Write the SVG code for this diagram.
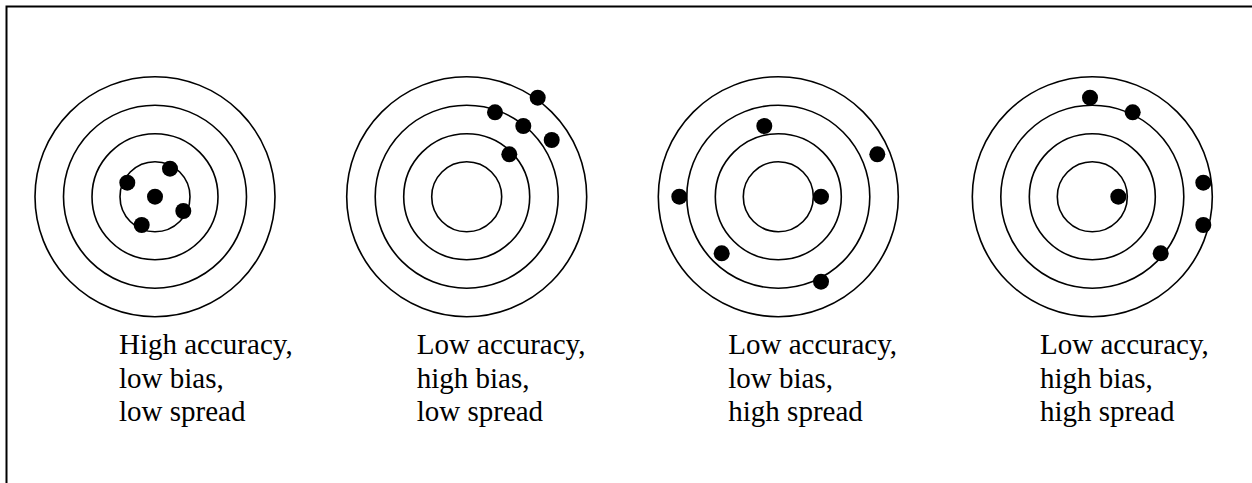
<svg xmlns="http://www.w3.org/2000/svg" width="1252" height="483" viewBox="0 0 1252 483">
<defs>
<style>
.ring{fill:none;stroke:#000;stroke-width:1.6}
.dot{fill:#000}
.lbl{font-family:"Liberation Serif","Times New Roman",serif;font-size:29px;fill:#000}
.frame{fill:none;stroke:#000;stroke-width:2}
</style>
<g id="target">
<circle class="ring" r="120"/>
<circle class="ring" r="91.5"/>
<circle class="ring" r="63"/>
<circle class="ring" r="35"/>
</g>
</defs>
<rect width="1252" height="483" fill="#fff"/>
<path class="frame" d="M6.5 483 V6.5 H1252"/>
<g id="target1">
<use href="#target" x="155" y="196.7"/>
<circle class="dot" cx="127.3" cy="182.7" r="8"/>
<circle class="dot" cx="170" cy="168.7" r="8"/>
<circle class="dot" cx="155" cy="196.7" r="8"/>
<circle class="dot" cx="183.3" cy="211" r="8"/>
<circle class="dot" cx="141.7" cy="225" r="8"/>
<text class="lbl" x="119" y="354.3">High accuracy,<tspan x="119" y="387.8">low bias,</tspan><tspan x="119" y="421">low spread</tspan></text>
</g>
<g id="target2">
<use href="#target" x="466.7" y="196.7"/>
<circle class="dot" cx="537.7" cy="97.7" r="8"/>
<circle class="dot" cx="495" cy="112.3" r="8"/>
<circle class="dot" cx="523.3" cy="126" r="8"/>
<circle class="dot" cx="551.7" cy="140" r="8"/>
<circle class="dot" cx="509.3" cy="154.3" r="8"/>
<text class="lbl" x="416.7" y="354.3">Low accuracy,<tspan x="416.7" y="387.8">high bias,</tspan><tspan x="416.7" y="421">low spread</tspan></text>
</g>
<g id="target3">
<use href="#target" x="778.3" y="196.7"/>
<circle class="dot" cx="764.3" cy="126" r="8"/>
<circle class="dot" cx="877.3" cy="154.3" r="8"/>
<circle class="dot" cx="679.3" cy="196.7" r="8"/>
<circle class="dot" cx="821" cy="196.7" r="8"/>
<circle class="dot" cx="721.7" cy="253.3" r="8"/>
<circle class="dot" cx="821" cy="281.7" r="8"/>
<text class="lbl" x="728.3" y="354.3">Low accuracy,<tspan x="728.3" y="387.8">low bias,</tspan><tspan x="728.3" y="421">high spread</tspan></text>
</g>
<g id="target4">
<use href="#target" x="1092.3" y="196.7"/>
<circle class="dot" cx="1090" cy="97.7" r="8"/>
<circle class="dot" cx="1132.7" cy="112.3" r="8"/>
<circle class="dot" cx="1203.3" cy="182.7" r="8"/>
<circle class="dot" cx="1203.3" cy="225" r="8"/>
<circle class="dot" cx="1118.3" cy="196.7" r="8"/>
<circle class="dot" cx="1160.7" cy="253.3" r="8"/>
<text class="lbl" x="1040" y="354.3">Low accuracy,<tspan x="1040" y="387.8">high bias,</tspan><tspan x="1040" y="421">high spread</tspan></text>
</g>
<g id="connectors"/>
</svg>
